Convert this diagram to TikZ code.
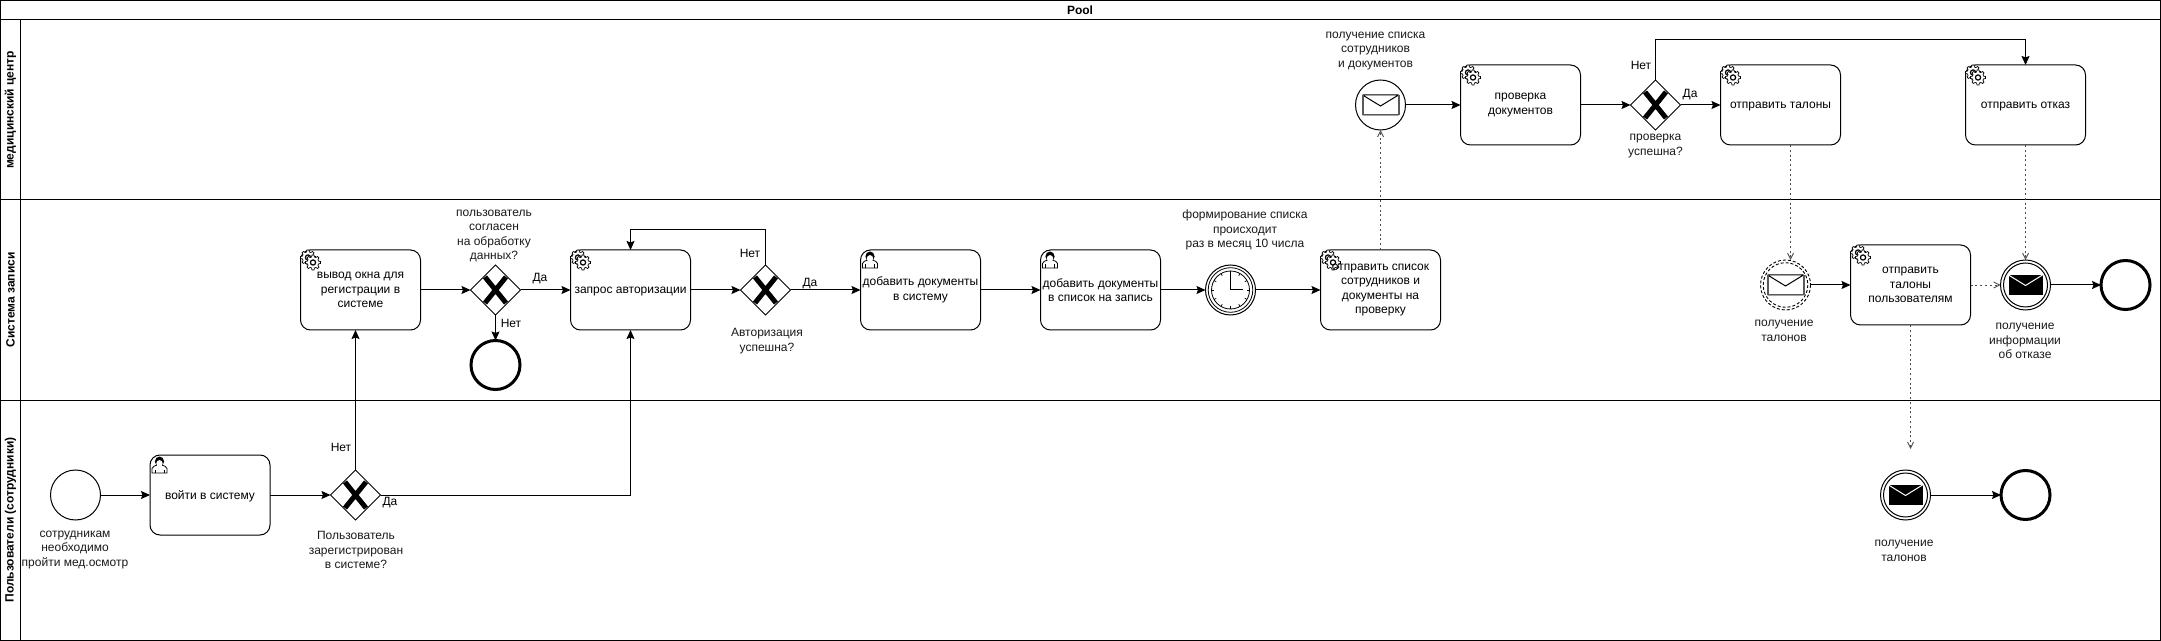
\documentclass[tikz,border=0pt]{standalone}
\usepackage{fontspec}
\setmainfont{Liberation Sans}
\usetikzlibrary{shapes.geometric,arrows.meta}
\tikzset{
  every node/.style={font=\fontsize{6}{7.3}\selectfont,inner sep=0pt,outer sep=0pt,align=center},
  lanelabel/.style={rotate=90,font=\fontsize{6}{7.3}\selectfont\bfseries},
  taskbox/.style={draw,rectangle,rounded corners=5pt,minimum width=60pt,minimum height=40pt,fill=white,line width=.5pt},
  oneline/.style={text height=5pt,text depth=1pt},
  gatewaybox/.style={draw,diamond,aspect=1,minimum width=25pt,minimum height=25pt,line width=.5pt,fill=white},
  evthin/.style={draw,circle,minimum size=25pt,line width=.5pt,fill=white},
  evend/.style={draw,circle,minimum size=24.5pt,line width=1.5pt,fill=white},
  flow/.style={line width=.5pt,-{Stealth[length=4.5pt,width=4pt,inset=.7pt]}},
  msgflow/.style={line width=.45pt,dash pattern=on 1pt off 1.4pt,-{Straight Barb[length=3pt,width=3pt]},draw=black!70},
  labeltext/.style={text=black!90},
  gearicon/.pic={
    \begin{scope}[line width=.35pt]
      \foreach \cx/\cy/\ra/\rb in {7.5/7.5/7.5/5.7,12.5/12.5/7.5/5.7}{
        \begin{scope}[shift={(\cx,\cy)}]
          \draw[fill=white] plot[domain=0:352.5,samples=48] (\x:{(mod(\x+11,45)<22.4?\ra:\rb)}) -- cycle;
          \draw[fill=white,line width=.6pt] (0,0) circle (2.6);
        \end{scope}
      }
    \end{scope}
  },
  usericon/.pic={
    \draw[fill=white,line width=.4pt] (2,18) -- (2,13.5) .. controls (2,11.5) and (5,11) .. (7,10) -- (12,10) .. controls (14,11) and (17,11.5) .. (17,13.5) -- (17,18) -- cycle;
    \draw (5,18) -- (5,14.5) (14,18) -- (14,14.5);
    \fill[black] (9.5,6.5) ellipse (4.6 and 5);
    \fill[white] (9.5,8.5) ellipse (3.2 and 3.4);
  },
  envelopeopen/.pic={
    \fill[white] (-18,-10) rectangle (18,10);
    \draw[line width=.5pt] (-18,-10) -- (18,-10) (-18,10) -- (18,10) (-18,-10) -- (0,1) -- (18,-10);
    \draw[line width=1pt,black!65] (-18,-10) -- (-18,10) (18,-10) -- (18,10);
  },
  envelopefull/.pic={
    \fill[black] (-17,-10) rectangle (17,10);
    \draw[white,line width=.5pt] (-17,-10) -- (0,0.5) -- (17,-10);
  },
  gatewaycross/.pic={
    \draw[line width=2.5pt] (-10.5,-13) -- (10.5,13) (10.5,-13) -- (-10.5,13);
  },
}
\begin{document}
\begin{tikzpicture}[x=0.5pt,y=-0.5pt]
\useasboundingbox (0,0) rectangle (2161,641);
% pool and lanes
\draw[line width=.5pt] (0.5,0.5) rectangle (2160.5,640.5);
\draw[line width=.5pt] (0.5,20) -- (2160.5,20) (0.5,200) -- (2160.5,200) (0.5,400) -- (2160.5,400) (20.5,20) -- (20.5,640.5);
\node[font=\fontsize{6}{7.3}\selectfont\bfseries] (pool) at (1080,10) {Pool};
\node[lanelabel] (lane1) at (10.5,110) {медицинский центр};
\node[lanelabel] (lane2) at (10.5,300) {Система записи};
\node[lanelabel] (lane3) at (10.5,520) {Пользователи (сотрудники)};

% lane 3
\node[evthin] (start) at (75.5,495) {};
\node[taskbox,oneline] (login) at (210,495) {войти в систему};
\node[gatewaybox] (gwa) at (355.5,495) {};
\pic at (gwa.center) {gatewaycross};
\pic at (login.north west) {usericon};
\node[labeltext] (tstart) at (75,550) {сотрудникам\\необходимо\\пройти мед.осмотр};
\node[labeltext] (tgwa) at (356,550) {Пользователь\\зарегистрирован\\в системе?};
\node (no1) at (341,447) {Нет};
\node (yes1) at (390,503) {Да};

% lane 2
\node[taskbox] (window) at (360.5,290) {вывод окна для\\регистрации в\\системе};
\pic at (window.north west) {gearicon};
\node[gatewaybox] (gwb) at (495.5,290) {};
\pic at (gwb.center) {gatewaycross};
\node[evend] (endb) at (495.5,365) {};
\node[taskbox,oneline] (auth) at (630.5,290) {запрос авторизации};
\pic at (auth.north west) {gearicon};
\node[gatewaybox] (gwc) at (765.5,290) {};
\pic at (gwc.center) {gatewaycross};
\node[taskbox] (adddoc) at (920.5,290) {добавить документы\\в систему};
\pic at (adddoc.north west) {usericon};
\node[taskbox] (addlist) at (1100.5,290) {добавить документы\\в список на запись};
\pic at (addlist.north west) {usericon};
\node[evthin] (timer) at (1230.5,290) {};
\draw[line width=.4pt] (timer.center) circle (22.3) (timer.center) circle (19);
\foreach \a in {0,30,...,330}{\draw[line width=.35pt] ([shift={(\a:19)}]timer.center) -- ([shift={(\a:16.5)}]timer.center);}
\draw[line width=.5pt] ([yshift=-3pt]timer.north) -- (timer.center) -- ([xshift=-6.5pt]timer.east);
\node[taskbox] (sendlist) at (1380.5,290) {};
\pic at (sendlist.north west) {gearicon};
\node (sendlisttext) at (sendlist.center) {отправить список\\сотрудников и\\документы на\\проверку};
\node[labeltext] (tgwb) at (494,236) {пользователь\\согласен\\на обработку\\данных?};
\node (yes2) at (540,279) {Да};
\node (no2) at (511,323) {Нет};
\node (no3) at (750,253) {Нет};
\node (yes3) at (810,284) {Да};
\node[labeltext] (tgwc) at (767,341) {Авторизация\\успешна?};
\node[labeltext] (ttimer) at (1245,230) {формирование списка\\происходит\\раз в месяц 10 числа};

\node[circle,minimum size=25pt] (recv) at (1785.5,285) {};
\draw[line width=.45pt,dash pattern=on 1.5pt off 1pt] (recv.center) circle (25) (recv.center) circle (22.3);
\pic at (recv.center) {envelopeopen};
\node[taskbox] (sendusers) at (1910.5,285) {отправить\\талоны\\пользователям};
\pic at (sendusers.north west) {gearicon};
\node[evthin] (refuse) at (2025.5,285) {};
\draw[line width=.5pt] (refuse.center) circle (22);
\pic at (refuse.center) {envelopefull};
\node[evend] (endc) at (2125.5,285) {};
\node[labeltext] (trecv) at (1784,331) {получение\\талонов};
\node[labeltext] (trefuse) at (2025,341) {получение\\информации\\об отказе};

% lane 1
\node[evthin] (catch) at (1380.5,105) {};
\pic at (catch.center) {envelopeopen};
\node[taskbox] (check) at (1520.5,105) {проверка\\документов};
\pic at (check.north west) {gearicon};
\node[gatewaybox] (gwd) at (1655.5,105) {};
\pic at (gwd.center) {gatewaycross};
\node[taskbox,oneline] (tickets) at (1780.5,105) {отправить талоны};
\pic at (tickets.north west) {gearicon};
\node[taskbox,oneline] (reject) at (2025.5,105) {отправить отказ};
\pic at (reject.north west) {gearicon};
\node[labeltext] (tcatch) at (1375.5,51) {получение списка\\сотрудников\\и документов};
\node (no4) at (1641,65) {Нет};
\node (yes4) at (1690,95) {Да};
\node[labeltext] (tgwd) at (1655.5,146) {проверка\\успешна?};

% lane 3 right
\node[evthin] (user) at (1905.5,495) {};
\draw[line width=.5pt] (user.center) circle (22);
\pic at (user.center) {envelopefull};
\node[evend] (endd) at (2025.5,495) {};
\node[labeltext] (tuser) at (1904,551) {получение\\талонов};

% loop and free-end helpers
\coordinate (loopc) at (765.5,230);
\coordinate (loopd) at (1655.5,40);
\coordinate (msgend) at (1910.5,449);

% sequence flows
\draw[flow] (start.east) -- (login.west);
\draw[flow] (login.east) -- (gwa.west);
\draw[flow] (gwa.north) -- (gwa.north |- window.south);
\draw[flow] (gwa.east) -| (auth.south);
\draw[flow] (window.east) -- (gwb.west);
\draw[flow] (gwb.east) -- (auth.west);
\draw[flow] (gwb.south) -- (endb.north);
\draw[flow] (auth.east) -- (gwc.west);
\draw[flow] (gwc.east) -- (adddoc.west);
\draw[flow] (gwc.north) -- (loopc) -| (auth.north);
\draw[flow] (adddoc.east) -- (addlist.west);
\draw[flow] (addlist.east) -- (timer.west);
\draw[flow] (timer.east) -- (sendlist.west);
\draw[flow] (catch.east) -- (check.west);
\draw[flow] (check.east) -- (gwd.west);
\draw[flow] (gwd.east) -- (tickets.west);
\draw[flow] (gwd.north) -- (loopd) -| (reject.north);
\draw[flow] (recv.east) -- (sendusers.west);
\draw[flow] (refuse.east) -- (endc.west);
\draw[flow] (user.east) -- (endd.west);
% message flows
\draw[msgflow] (sendlist.north) -- (catch.south);
\draw[msgflow] ([xshift=5pt]tickets.south) -- ([xshift=5pt]tickets.south |- recv.north);
\draw[msgflow] (reject.south) -- (refuse.north);
\draw[msgflow] (sendusers.east) -- (refuse.west);
\draw[msgflow] (sendusers.south) -- (msgend);
\end{tikzpicture}
\end{document}
